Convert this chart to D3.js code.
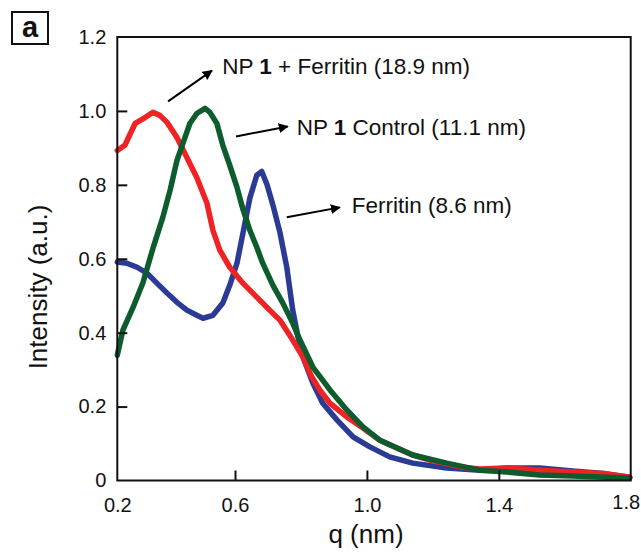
<!DOCTYPE html>
<html>
<head>
<meta charset="utf-8">
<script src="https://cdn.jsdelivr.net/npm/d3@7"></script>
<style>
  html, body { margin: 0; padding: 0; background: #fff; }
  svg { display: block; font-family: "Liberation Sans", Arial, Helvetica, sans-serif; }
</style>
</head>
<body>
<svg id="chart" width="641" height="554"></svg>
<script>
// ---------- data ----------
const xTicks = [0.243, 0.6, 1.0, 1.4, 1.8];
const yTicks = [0, 0.2, 0.4, 0.6, 0.8, 1.0, 1.2];

const mixQ = [0.243,0.266,0.297,0.327,0.351,0.372,0.394,0.424,0.454,0.484,0.515,0.533,0.554,0.584,0.624,0.666,0.705,0.736,0.775,0.806,0.833,0.857,0.888,0.939,0.988,1.039,1.091,1.139,1.191,1.242,1.290,1.342,1.424,1.524,1.624,1.727,1.797];
const mixI = [0.893,0.907,0.966,0.982,0.996,0.988,0.969,0.928,0.874,0.820,0.750,0.677,0.623,0.577,0.534,0.496,0.461,0.434,0.380,0.334,0.280,0.245,0.209,0.172,0.142,0.109,0.088,0.069,0.055,0.045,0.036,0.031,0.034,0.028,0.023,0.018,0.009];

const ctrlQ = [0.243,0.260,0.291,0.321,0.351,0.381,0.403,0.424,0.442,0.463,0.484,0.509,0.524,0.545,0.563,0.584,0.606,0.624,0.645,0.666,0.684,0.715,0.745,0.775,0.797,0.836,0.888,0.939,0.988,1.039,1.139,1.242,1.342,1.424,1.524,1.624,1.727,1.797];
const ctrlI = [0.339,0.407,0.469,0.536,0.628,0.712,0.785,0.866,0.912,0.966,0.993,1.007,0.996,0.966,0.907,0.853,0.793,0.734,0.677,0.631,0.588,0.528,0.480,0.426,0.380,0.307,0.245,0.191,0.145,0.109,0.069,0.047,0.028,0.023,0.015,0.012,0.009,0.007];

const ferQ = [0.243,0.272,0.303,0.333,0.363,0.394,0.424,0.454,0.484,0.503,0.533,0.563,0.584,0.606,0.624,0.645,0.666,0.681,0.697,0.715,0.736,0.757,0.775,0.791,0.806,0.836,0.866,0.909,0.958,1.009,1.069,1.139,1.242,1.342,1.424,1.524,1.624,1.727,1.797];
const ferI = [0.591,0.588,0.577,0.561,0.534,0.507,0.482,0.461,0.447,0.439,0.447,0.480,0.528,0.588,0.669,0.764,0.826,0.836,0.801,0.745,0.672,0.577,0.461,0.388,0.334,0.264,0.209,0.164,0.118,0.091,0.064,0.047,0.034,0.028,0.034,0.034,0.026,0.018,0.009];

const seriesNames = ["Ferritin", "NP 1 + Ferritin", "NP 1 Control"];
const seriesColors = ["#2b3a94", "#ef2323", "#0d5c2d"];

// annotation labels: [prefix, bold part, suffix]
const labelParts = [["NP ", "1", " + Ferritin (18.9 nm)"], ["NP ", "1", " Control (11.1 nm)"], ["", "", "Ferritin (8.6 nm)"]];
const labelQ = [0.561, 0.787, 0.954];
const labelI = [1.099, 0.934, 0.723];
const arrowFromQ = [0.397, 0.603, 0.757];
const arrowFromI = [1.026, 0.931, 0.712];
const arrowToQ = [0.530, 0.760, 0.918];
const arrowToI = [1.109, 0.958, 0.739];

// ---------- layout ----------
const svg = d3.select("#chart");
const L = 117.3, R = 630.7, T = 37, B = 480.5;

const x = d3.scaleLinear().domain([0.243, 1.8]).range([L, R]);
const y = d3.scaleLinear().domain([0, 1.2]).range([B, T]);

// defs: arrowhead
svg.append("defs").append("marker")
  .attr("id", "ah").attr("viewBox", "0 0 10 10")
  .attr("refX", 9).attr("refY", 5)
  .attr("markerWidth", 5).attr("markerHeight", 5)
  .attr("markerUnits", "strokeWidth")
  .attr("orient", "auto")
  .append("path").attr("d", "M0,0 L10,5 L0,10 z").attr("fill", "#000");

// curves
const line = d3.line().x(d => x(d[0])).y(d => y(d[1])).curve(d3.curveLinear);
const series = [
  d3.zip(ferQ, ferI),
  d3.zip(mixQ, mixI),
  d3.zip(ctrlQ, ctrlI)
];
svg.append("g").selectAll("path").data(series).join("path")
  .attr("d", line)
  .attr("fill", "none")
  .attr("stroke", (d, i) => seriesColors[i])
  .attr("stroke-width", 5.5)
  .attr("stroke-linejoin", "round")
  .attr("stroke-linecap", "round");

// frame
svg.append("rect")
  .attr("x", L).attr("y", T).attr("width", R - L).attr("height", B - T)
  .attr("fill", "none").attr("stroke", "#111").attr("stroke-width", 2);

// axes (ticks inward)
const fmtY = d => d === 0 ? "0" : d3.format(".1f")(d);
const xAxis = d3.axisBottom(x).tickValues(xTicks).tickFormat(d3.format(".1f")).tickSizeInner(-10).tickSizeOuter(0).tickPadding(17);
const yAxis = d3.axisLeft(y).tickValues(yTicks).tickFormat(fmtY).tickSizeInner(-10).tickSizeOuter(0).tickPadding(22);

const gx = svg.append("g").attr("transform", `translate(0,${B})`).call(xAxis);
const gy = svg.append("g").attr("transform", `translate(${L},0)`).call(yAxis);
[gx, gy].forEach(g => {
  g.select(".domain").remove();
  g.selectAll(".tick line").attr("stroke", "#111").attr("stroke-width", 2);
  g.selectAll(".tick text").attr("fill", "#111").style("font-size", "20px").style("font-family", null);
});
gx.selectAll(".tick text").filter(d => d === 1.8).attr("dx", -5).attr("dy", "0.56em");
gy.selectAll(".tick text").attr("x", -11);
gy.selectAll(".tick line").filter(d => d === 0 || d === 1.2).remove();
gx.selectAll(".tick line").filter(d => d === 0.243 || d === 1.8).remove();

// axis titles
svg.append("text").attr("x", 366).attr("y", 543)
  .attr("text-anchor", "middle").style("font-size", "26px").attr("fill", "#111")
  .text("q (nm)");
svg.append("text").attr("transform", "translate(47,287) rotate(-90)")
  .attr("text-anchor", "middle").style("font-size", "26px").attr("fill", "#111")
  .text("Intensity (a.u.)");

// panel label
svg.append("rect").attr("x", 12).attr("y", 12).attr("width", 36).attr("height", 32)
  .attr("fill", "#fff").attr("stroke", "#111").attr("stroke-width", 2);
svg.append("text").attr("x", 30).attr("y", 37).attr("text-anchor", "middle")
  .style("font-size", "29px").style("font-weight", "bold").attr("fill", "#111").text("a");

// annotations
const ann = svg.append("g");
labelParts.forEach((p, i) => {
  ann.append("line")
    .attr("x1", x(arrowFromQ[i])).attr("y1", y(arrowFromI[i]))
    .attr("x2", x(arrowToQ[i])).attr("y2", y(arrowToI[i]))
    .attr("stroke", "#000").attr("stroke-width", 2)
    .attr("marker-end", "url(#ah)");
  const t = ann.append("text").attr("x", x(labelQ[i])).attr("y", y(labelI[i]))
    .style("font-size", "22.5px").attr("fill", "#111");
  if (p[0]) t.append("tspan").text(p[0]);
  if (p[1]) t.append("tspan").style("font-weight", "bold").text(p[1]);
  t.append("tspan").text(p[2]);
});
</script>
</body>
</html>
